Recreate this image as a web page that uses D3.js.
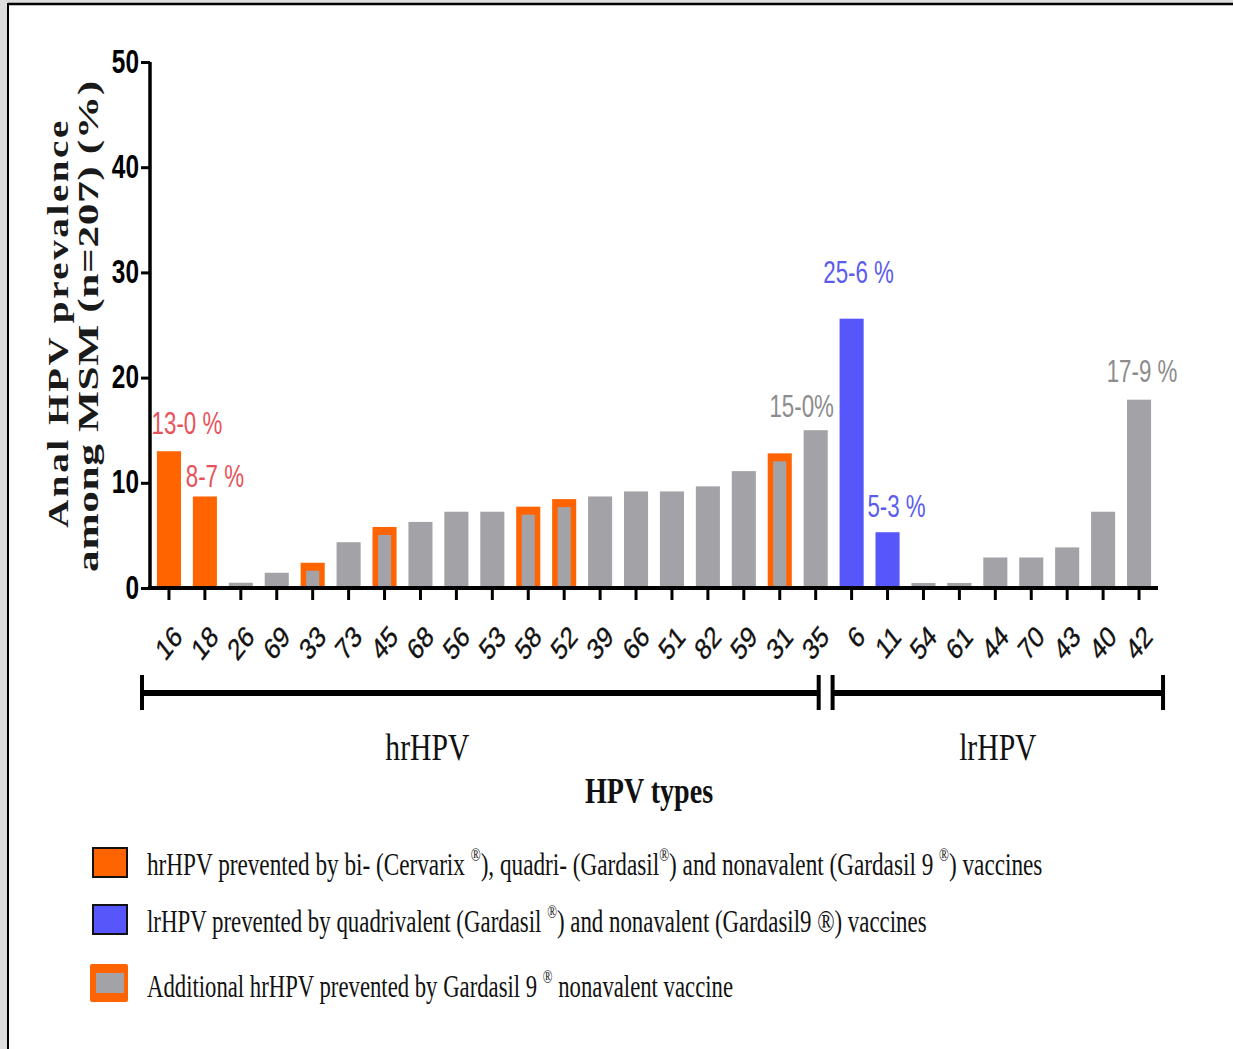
<!DOCTYPE html>
<html>
<head>
<meta charset="utf-8">
<script src="https://cdn.jsdelivr.net/npm/d3@7"></script>
<style>
	html, body { margin: 0; padding: 0; background: #dedede; }
	svg { display: block; }
</style>
</head>
<body>
<svg id="chart" width="1233" height="1049"></svg>
<script>
// HPV types and prevalence (%)
const hrTypes = ["16", "18", "26", "69", "33", "73", "45", "68", "56", "53", "58", "52", "39", "66", "51", "82", "59", "31", "35"];
const hrPrev = [13.0, 8.7, 0.5, 1.45, 2.4, 4.35, 5.8, 6.28, 7.25, 7.25, 7.73, 8.45, 8.7, 9.18, 9.18, 9.66, 11.11, 12.8, 15.0];
const lrTypes = ["6", "11", "54", "61", "44", "70", "43", "40", "42"];
const lrPrev = [25.6, 5.3, 0.48, 0.48, 2.9, 2.9, 3.86, 7.25, 17.9];

// vaccine coverage groups
const biQuadNona = ["16", "18"];
const quadNona = ["6", "11"];
const nonaOnly = ["33", "45", "58", "52", "31"];

// annotated bars
const labelTypes = ["16", "18", "35", "6", "11", "42"];
const labelTexts = ["13-0 %", "8-7 %", "15-0%", "25-6 %", "5-3 %", "17-9 %"];

const yTicks = [0, 10, 20, 30, 40, 50];
const groupNames = ["hrHPV", "lrHPV"];

const ORANGE = "#ff6400", BLUE = "#5656fb", GRAY = "#a3a2a7";
const SANS = "'Liberation Sans', Arial, sans-serif";
const SERIF = "'Liberation Serif', 'Times New Roman', serif";
const SQ = 0.78; // the figure is squeezed horizontally

var types = hrTypes.concat(lrTypes);
var prev = hrPrev.concat(lrPrev);
var data = types.map((t, i) => ({ type: t, value: prev[i] }));

var svg = d3.select("#chart");

// panel
svg.append("rect").attr("x", 8).attr("y", 3).attr("width", 1233).attr("height", 1049).attr("fill", "#fff");
svg.append("line").attr("x1", 8).attr("x2", 1233).attr("y1", 4).attr("y2", 4).attr("stroke", "#000").attr("stroke-width", 2.5);
svg.append("line").attr("x1", 8).attr("x2", 8).attr("y1", 3).attr("y2", 1049).attr("stroke", "#000").attr("stroke-width", 2);

let x = d3.scaleBand().domain(types).range([151, 1157]).paddingInner(0.33).paddingOuter(0.165);
let y = d3.scaleLinear().domain([0, 50]).range([588, 62]);
var bw = x.bandwidth();
var cx = (t) => x(t) + bw / 2;

// bars
var bars = svg.append("g");
data.forEach((d) => {
	if (nonaOnly.includes(d.type)) {
		bars.append("rect")
			.attr("x", x(d.type)).attr("y", y(d.value))
			.attr("width", bw).attr("height", y(0) - y(d.value))
			.attr("fill", ORANGE);
		bars.append("rect")
			.attr("x", x(d.type) + 5.5).attr("y", y(d.value) + 8)
			.attr("width", bw - 11).attr("height", y(0) - y(d.value) - 8)
			.attr("fill", GRAY);
	} else {
		var col = biQuadNona.includes(d.type) ? ORANGE : quadNona.includes(d.type) ? BLUE : GRAY;
		bars.append("rect")
			.attr("x", x(d.type)).attr("y", y(d.value))
			.attr("width", bw).attr("height", y(0) - y(d.value))
			.attr("fill", col);
	}
});

// axes
svg.append("g")
	.attr("transform", "translate(150,0)")
	.call(d3.axisLeft(y).tickValues(yTicks).tickSize(9).tickFormat(d3.format("d")))
	.call((g) => {
		g.select(".domain").attr("stroke-width", 3.5).attr("d", `M0,${y(50)}V${y(0) + 2}`);
		g.selectAll(".tick line").attr("stroke-width", 3);
		g.selectAll(".tick text").remove();
	});

yTicks.forEach((v) => {
	svg.append("text")
		.attr("transform", `translate(139,${y(v) - 1}) scale(0.74,1)`)
		.attr("text-anchor", "end").attr("dy", "0.35em")
		.attr("font-family", SANS).attr("font-weight", "bold").attr("font-size", 33)
		.text(v);
});

svg.append("g")
	.attr("transform", `translate(0,${y(0)})`)
	.call(d3.axisBottom(x).tickSize(12).tickSizeOuter(0))
	.call((g) => {
		g.select(".domain").attr("stroke-width", 4).attr("d", "M148,0H1158");
		g.selectAll(".tick line").attr("stroke-width", 3);
		g.selectAll(".tick text").remove();
	});

types.forEach((t) => {
	svg.append("text")
		.attr("transform", `translate(${cx(t) + 9},631) scale(${SQ},1) rotate(-45)`)
		.attr("text-anchor", "end").attr("dy", "0.35em")
		.attr("font-family", SANS).attr("font-size", 30).attr("fill", "#111")
		.attr("stroke", "#111").attr("stroke-width", 0.4)
		.text(t);
});

// value labels
var nudge = { "16": [18, -17], "18": [10, -9], "35": [-14, -13], "6": [7, -36], "11": [9, -15], "42": [3, -18] };
labelTypes.forEach((t, i) => {
	var v = prev[types.indexOf(t)];
	var col = biQuadNona.includes(t) ? "#e8515a" : quadNona.includes(t) ? "#5b5bef" : "#8c8c8c";
	svg.append("text")
		.attr("transform", `translate(${cx(t) + nudge[t][0]},${y(v) + nudge[t][1]}) scale(0.72,1)`)
		.attr("text-anchor", "middle")
		.attr("font-family", SANS).attr("font-size", 31).attr("fill", col)
		.text(labelTexts[i]);
});

// y title, two lines
var yTitle = [
	{ text: "Anal HPV prevalence", x: 68, len: 410, mid: 323, spacing: 2.5 },
	{ text: "among MSM (n=207) (%)", x: 98, len: 492, mid: 326, spacing: 0.5 }
];
yTitle.forEach((l) => {
	var t = svg.append("text")
		.attr("text-anchor", "middle")
		.attr("font-family", SERIF).attr("font-weight", "bold").attr("font-size", 38)
		.attr("letter-spacing", l.spacing)
		.attr("fill", "#1a1a1a")
		.text(l.text);
	var w = t.node().getBBox().width;
	t.attr("transform", `translate(${l.x},${l.mid}) rotate(-90) scale(${l.len / w},${SQ})`);
});

// group brackets
var step = x.step();
var groups = [
	{ name: groupNames[0], x0: cx(hrTypes[0]) - step * 0.75, x1: cx(hrTypes[hrTypes.length - 1]) + 3 },
	{ name: groupNames[1], x0: cx(lrTypes[0]) - 19, x1: cx(lrTypes[lrTypes.length - 1]) + 24 }
];
groups.forEach((g) => {
	svg.append("line").attr("x1", g.x0).attr("x2", g.x1).attr("y1", 693).attr("y2", 693)
		.attr("stroke", "#000").attr("stroke-width", 6);
	[g.x0, g.x1].forEach((xx) => {
		svg.append("line").attr("x1", xx).attr("x2", xx).attr("y1", 675).attr("y2", 710)
			.attr("stroke", "#000").attr("stroke-width", 4);
	});
	svg.append("text")
		.attr("transform", `translate(${(g.x0 + g.x1) / 2 + (g.name === "hrHPV" ? -53 : 0)},760) scale(${SQ},1)`)
		.attr("text-anchor", "middle")
		.attr("font-family", SERIF).attr("font-size", 38).attr("fill", "#111")
		.text(g.name);
});

svg.append("text")
	.attr("transform", `translate(649,803) scale(${SQ},1)`)
	.attr("text-anchor", "middle")
	.attr("font-family", SERIF).attr("font-weight", "bold").attr("font-size", 36).attr("fill", "#111")
	.text("HPV types");

// legend
var legendParts = [
	[["hrHPV prevented by bi- (Cervarix ", 0], ["®", 1], ["), quadri- (Gardasil", 0], ["®", 1], [") and nonavalent (Gardasil 9 ", 0], ["®", 1], [") vaccines", 0]],
	[["lrHPV prevented by quadrivalent (Gardasil ", 0], ["®", 1], [") and nonavalent (Gardasil9 ®) vaccines", 0]],
	[["Additional hrHPV prevented by Gardasil 9 ", 0], ["®", 1], [" nonavalent vaccine", 0]]
];
var legendWidths = [896, 780, 586];
var legendY = [875, 932, 997];

legendParts.forEach((parts, i) => {
	var t = svg.append("text").attr("font-family", SERIF).attr("font-size", 32).attr("fill", "#111");
	var raised = false;
	parts.forEach((p) => {
		var dy = p[1] ? -14 : raised ? 14 : 0;
		raised = !!p[1];
		t.append("tspan")
			.attr("font-size", p[1] ? 18 : 32)
			.attr("dy", dy)
			.text(p[0]);
	});
	var w = t.node().getBBox().width;
	t.attr("transform", `translate(147,${legendY[i]}) scale(${legendWidths[i] / w},1)`);
});

// legend swatches
svg.append("rect").attr("x", 93).attr("y", 848).attr("width", 34).attr("height", 29)
	.attr("fill", ORANGE).attr("stroke", "#111").attr("stroke-width", 2);
svg.append("rect").attr("x", 93).attr("y", 905).attr("width", 34).attr("height", 29)
	.attr("fill", BLUE).attr("stroke", "#111").attr("stroke-width", 2);
svg.append("rect").attr("x", 90).attr("y", 964).attr("width", 38).attr("height", 38)
	.attr("fill", ORANGE).attr("rx", 2);
svg.append("rect").attr("x", 96).attr("y", 973).attr("width", 28).attr("height", 20)
	.attr("fill", GRAY);
</script>
</body>
</html>
